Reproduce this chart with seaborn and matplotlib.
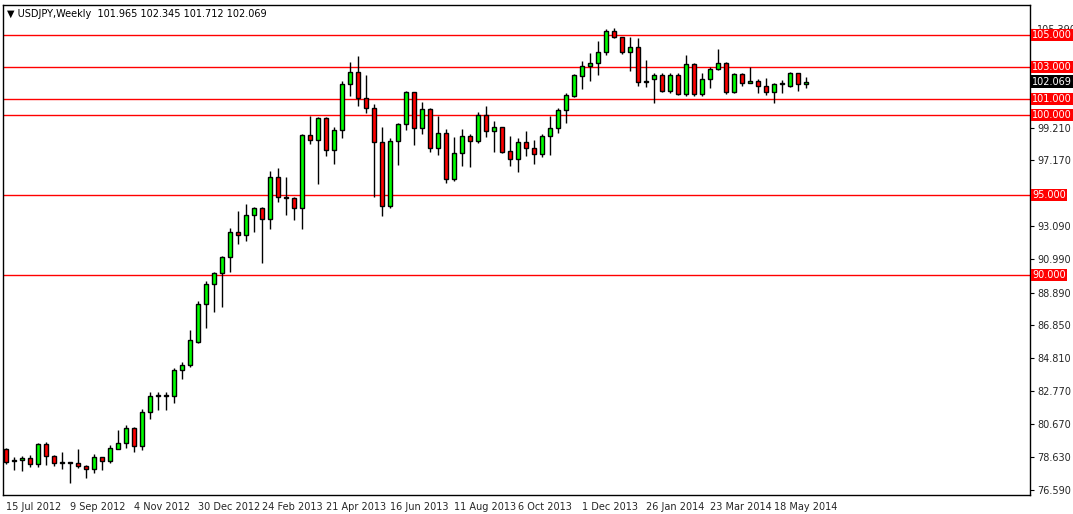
import matplotlib
matplotlib.use("Agg")
import matplotlib.pyplot as plt
import seaborn as sns
import numpy as np

opens = [79.11,78.4,78.42,78.54,78.17,79.44,78.69,78.23,78.25,78.25,78.04,77.86,78.6,78.36,79.15,79.52,80.42,79.33,81.46,82.44,82.44,
         82.46,84.04,84.35,85.79,88.16,89.41,90.1,91.1,92.66,92.48,93.73,94.16,93.48,96.1,94.85,94.81,94.21,98.73,98.42,99.81,
         97.79,99.06,101.94,102.66,101.04,100.42,98.29,94.31,98.37,99.44,101.41,99.17,100.35,97.92,98.85,95.98,97.6,98.67,98.35,
         99.98,98.98,99.23,97.75,97.23,98.29,97.92,97.54,98.67,99.17,100.29,101.19,102.44,103.08,103.23,103.96,105.27,104.85,
         103.92,104.23,102.04,102.23,102.48,101.5,102.48,101.31,103.17,101.31,102.23,102.86,103.27,101.42,102.56,102.02,102.15,
         101.83,101.46,101.92,101.83,102.6,101.965]
highs = [79.2,78.6,78.69,78.75,79.52,79.59,78.75,78.96,78.33,79.13,78.13,78.81,78.65,79.38,80.31,80.63,80.52,81.6,82.71,82.71,82.71,
         84.16,84.56,86.56,88.37,89.62,90.2,91.19,92.91,94.0,94.43,94.27,94.23,96.5,96.66,96.1,94.9,98.81,99.94,99.9,99.9,
         99.23,102.12,103.31,103.69,102.5,100.66,99.23,98.54,99.52,101.52,101.46,100.83,100.42,99.94,99.1,98.6,99.1,98.81,100.19,
         100.56,99.63,99.27,98.69,98.54,99.0,98.44,98.81,99.94,100.46,101.35,102.56,103.4,103.85,104.6,105.36,105.42,104.9,
         104.9,104.8,103.44,102.6,102.65,102.65,102.65,103.75,103.27,102.65,102.98,104.1,103.33,102.65,102.65,102.98,102.23,
         102.29,101.98,102.19,102.71,102.65,102.345]
lows = [78.2,77.8,77.77,78.02,78.02,78.13,78.09,77.88,77.02,77.92,77.34,77.65,77.81,78.23,79.1,79.17,78.96,79.06,80.98,81.56,81.56,
        82.02,83.52,84.23,85.77,86.71,87.71,87.98,90.2,91.91,92.14,92.71,90.77,92.85,94.54,93.75,93.44,92.85,98.19,95.69,97.44,
        96.94,98.54,101.21,100.56,100.1,94.89,93.71,94.16,96.87,99.06,98.12,98.81,97.71,97.5,95.73,95.9,96.81,96.77,98.27,
        98.65,97.71,97.65,96.81,96.46,97.44,96.92,97.4,97.5,98.85,99.52,101.1,101.6,102.1,102.5,103.75,104.8,103.81,
        102.77,101.83,101.77,100.73,101.46,101.4,101.25,101.19,101.19,101.19,101.67,102.81,101.31,101.35,101.83,101.98,101.35,
        101.25,100.77,101.35,101.77,101.52,101.712]
closes = [78.34,78.42,78.54,78.17,79.42,78.69,78.23,78.25,78.23,78.04,77.86,78.6,78.36,79.17,79.52,80.42,79.33,81.46,82.46,82.46,82.42,
          84.06,84.35,85.91,88.16,89.41,90.1,91.1,92.66,92.48,93.73,94.16,93.48,96.1,94.85,94.83,94.21,98.73,98.42,99.81,97.79,
          99.06,101.94,102.66,101.04,100.42,98.29,94.31,98.37,99.44,101.41,99.17,100.35,97.92,98.85,95.98,97.6,98.67,98.35,99.98,
          98.98,99.23,97.71,97.23,98.29,97.92,97.54,98.67,99.17,100.29,101.27,102.48,103.08,103.23,103.96,105.27,104.85,103.92,
          104.23,102.04,102.15,102.48,101.5,102.48,101.31,103.17,101.31,102.23,102.86,103.27,101.42,102.56,102.02,102.15,101.83,
          101.46,101.92,101.94,102.6,101.92,102.069]

date_labels = ["15 Jul 2012", "9 Sep 2012", "4 Nov 2012", "30 Dec 2012", "24 Feb 2013", "21 Apr 2013", "16 Jun 2013",
               "11 Aug 2013", "6 Oct 2013", "1 Dec 2013", "26 Jan 2014", "23 Mar 2014", "18 May 2014"]
ytick_vals = [76.59, 78.63, 80.67, 82.77, 84.81, 86.85, 88.89, 90.99, 93.09, 95.13, 97.17, 99.21, 101.25, 103.35, 105.39]
hidden_ticks = [95.13, 101.25, 103.35]
levels = [105.0, 103.0, 101.0, 100.0, 95.0, 90.0]

sns.set_style("white")
plt.rcParams['font.family'] = ['DejaVu Sans']

fig = plt.figure(figsize=(10.73, 5.14), dpi=100)
ax = fig.add_axes([3/1073, 19/514, 1027/1073, 490/514])

o = np.array(opens); h = np.array(highs); l = np.array(lows); c = np.array(closes)
x = np.arange(1, len(o) + 1)
up = c >= o
ax.vlines(x, l, h, color="black", lw=1, zorder=2)
for m, col in [(up, "#00ff00"), (~up, "#ff0000")]:
    bot = np.minimum(o, c)[m]
    ht = np.maximum(np.abs(c - o)[m], 0.06)
    ax.bar(x[m], ht, bottom=bot, width=0.62, color=col, edgecolor="black", lw=1, zorder=3)

for lv in levels:
    ax.axhline(lv, color="#ff0000", lw=1, zorder=1)

ax.set_xlim(0.625, 129)
ax.set_ylim(76.25, 106.875)
ax.yaxis.tick_right()
ax.set_yticks(ytick_vals)
ax.set_yticklabels(["" if v in hidden_ticks else f"{v:.3f}" for v in ytick_vals], fontsize=7)
ax.set_xticks([1 + 8 * i for i in range(len(date_labels))])
ax.set_xticklabels(date_labels, fontsize=7, ha="left")
ax.tick_params(axis="both", length=3, color="black", direction="out", pad=2)
for s in ax.spines.values():
    s.set_color("black"); s.set_linewidth(1)

tr = ax.get_yaxis_transform()
for lv in levels:
    ax.text(1.002, lv, f"{lv:.3f}", transform=tr, fontsize=7, color="white", va="center", ha="left",
            bbox=dict(boxstyle="square,pad=0.15", fc="#ff0000", ec="none"), clip_on=False, zorder=5)
ax.text(1.002, closes[-1], f"{closes[-1]:.3f}", transform=tr, fontsize=7, color="white", va="center", ha="left",
        bbox=dict(boxstyle="square,pad=0.15", fc="black", ec="none"), clip_on=False, zorder=5)

ax.text(0.004, 0.992, f"\u25bc USDJPY,Weekly  {opens[-1]:.3f} {highs[-1]:.3f} {lows[-1]:.3f} {closes[-1]:.3f}",
        transform=ax.transAxes, fontsize=7, va="top", ha="left", color="black")

fig.savefig("out.png", dpi=100, facecolor="white")
